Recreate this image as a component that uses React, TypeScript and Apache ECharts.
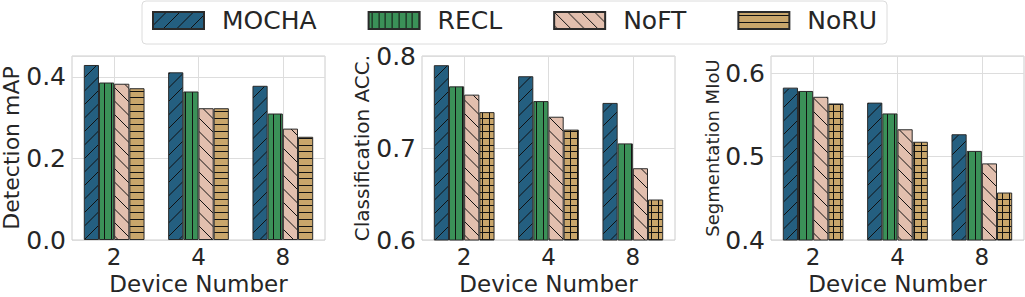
import React, { useEffect, useRef } from "react";
import * as echarts from "echarts";

const categories = ["2", "4", "8"];
const methods = ["MOCHA", "RECL", "NoFT", "NoRU"];

// Detection mAP
const detMOCHA = [0.429, 0.411, 0.378];
const detRECL = [0.386, 0.364, 0.310];
const detNoFT = [0.383, 0.323, 0.273];
const detNoRU = [0.372, 0.323, 0.253];

// Classification ACC.
const clsMOCHA = [0.790, 0.778, 0.749];
const clsRECL = [0.767, 0.751, 0.705];
const clsNoFT = [0.758, 0.734, 0.678];
const clsNoRU = [0.739, 0.720, 0.644];

// Segmentation MIoU
const segMOCHA = [0.583, 0.565, 0.527];
const segRECL = [0.579, 0.552, 0.507];
const segNoFT = [0.572, 0.533, 0.492];
const segNoRU = [0.564, 0.518, 0.457];

const yNames = ["Detection mAP", "Classification ACC.", "Segmentation MIoU"];
const yMin = [0, 0.6, 0.4];
const yMax = [0.451, 0.8, 0.621];
const yInterval = [0.2, 0.1, 0.1];
const xName = "Device Number";

const colors = ["#245f80", "#3b9158", "#e2bfae", "#c9a66b"];

const TILE = 27;
function makePattern(bg: string, kind: string) {
  const c = document.createElement("canvas");
  c.width = TILE;
  c.height = TILE;
  const ctx = c.getContext("2d")!;
  ctx.fillStyle = bg;
  ctx.fillRect(0, 0, TILE, TILE);
  ctx.strokeStyle = "#111";
  ctx.lineWidth = 1;
  ctx.beginPath();
  if (kind === "fwd") {
    for (const cc of [0, 13.5, 27, 40.5, 54]) {
      ctx.moveTo(cc + 1, -1);
      ctx.lineTo(cc - 28, 28);
    }
  } else if (kind === "back") {
    for (const cc of [-27, -13.5, 0, 13.5, 27]) {
      ctx.moveTo(cc - 1, -1);
      ctx.lineTo(cc + 28, 28);
    }
  }
  const pos = [3.5, 10.5, 16.5, 23.5];
  if (kind === "vert" || kind === "cross") {
    for (const p of pos) {
      ctx.moveTo(p, 0);
      ctx.lineTo(p, TILE);
    }
  }
  if (kind === "horiz" || kind === "cross") {
    for (const p of pos) {
      ctx.moveTo(0, p);
      ctx.lineTo(TILE, p);
    }
  }
  ctx.stroke();
  return { image: c, repeat: "repeat", imageWidth: TILE, imageHeight: TILE } as any;
}

export default function App() {
  const ref = useRef<HTMLDivElement>(null);
  useEffect(() => {
    if (!ref.current) return;
    const chart = echarts.init(ref.current, null, { renderer: "svg" });

    const pats = [
      [makePattern(colors[0], "fwd"), makePattern(colors[1], "vert"), makePattern(colors[2], "back"), makePattern(colors[3], "horiz")],
      [makePattern(colors[0], "fwd"), makePattern(colors[1], "vert"), makePattern(colors[2], "back"), makePattern(colors[3], "cross")],
      [makePattern(colors[0], "fwd"), makePattern(colors[1], "vert"), makePattern(colors[2], "back"), makePattern(colors[3], "cross")],
    ];
    const data = [
      [detMOCHA, detRECL, detNoFT, detNoRU],
      [clsMOCHA, clsRECL, clsNoFT, clsNoRU],
      [segMOCHA, segRECL, segNoFT, segNoRU],
    ];
    const lefts = [72, 422, 771];
    const nameSizes = [22, 20, 18];
    const nameLineHeights = [20, 20, 18];
    const nameGaps = [46, 50, 49];
    const textColor = "#262626";
    const font = "DejaVu Sans";

    const grids = lefts.map((l) => ({
      left: l,
      top: 56,
      width: 253,
      height: 184,
      show: true,
      borderColor: "#cccccc",
      borderWidth: 1,
      backgroundColor: "#ffffff",
      containLabel: false,
      outerBoundsMode: "none",
    }));
    const xAxes = lefts.map((_, i) => ({
      type: "category",
      gridIndex: i,
      data: categories,
      axisLine: { show: false },
      axisTick: { show: false },
      axisLabel: { fontSize: 23, color: textColor, fontFamily: font, margin: 5 },
      splitLine: { show: true, alignWithLabel: true, lineStyle: { color: "#dddddd", width: 1 } },
      name: xName,
      nameLocation: "middle",
      nameGap: 29,
      nameTextStyle: { fontSize: 23, lineHeight: 22, color: textColor, fontFamily: font },
    }));
    const yAxes = lefts.map((_, i) => ({
      type: "value",
      gridIndex: i,
      min: yMin[i],
      max: yMax[i],
      interval: yInterval[i],
      axisLine: { show: false },
      axisTick: { show: false },
      axisLabel: {
        fontSize: 25,
        color: textColor,
        fontFamily: font,
        margin: 6,
        formatter: (v: number) =>
          Math.abs(v * 10 - Math.round(v * 10)) < 1e-6 ? v.toFixed(1) : "",
      },
      splitLine: { show: true, lineStyle: { color: "#dddddd", width: 1 } },
      name: yNames[i],
      nameLocation: "middle",
      nameGap: nameGaps[i],
      nameTextStyle: {
        fontSize: nameSizes[i],
        lineHeight: nameLineHeights[i],
        color: textColor,
        fontFamily: font,
      },
    }));
    const series: any[] = [];
    for (let g = 0; g < 3; g++) {
      for (let m = 0; m < 4; m++) {
        series.push({
          type: "bar",
          name: methods[m],
          xAxisIndex: g,
          yAxisIndex: g,
          data: data[g][m],
          barGap: "0%",
          barCategoryGap: "28%",
          itemStyle: {
            color: pats[g][m],
            borderColor: "#2a2a2a",
            borderWidth: 1,
          },
        });
      }
    }

    chart.setOption({
      animation: false,
      backgroundColor: "#ffffff",
      textStyle: { fontFamily: font },
      legend: {
        data: methods,
        left: 142,
        top: 1,
        orient: "horizontal",
        itemWidth: 51,
        itemHeight: 17,
        itemGap: 51,
        padding: [7, 10, 11, 10],
        borderColor: "#dcdcdc",
        borderWidth: 1,
        borderRadius: 4,
        backgroundColor: "#ffffff",
        selectedMode: false,
        icon: "rect",
        textStyle: {
          fontSize: 25,
          lineHeight: 24,
          color: textColor,
          fontFamily: font,
          padding: [0, 0, 0, 13],
        },
      },
      grid: grids,
      xAxis: xAxes,
      yAxis: yAxes,
      series,
    });
    return () => chart.dispose();
  }, []);
  return (
    <div
      ref={ref}
      style={{ position: "fixed", left: 0, top: 0, width: 1025, height: 297 }}
    />
  );
}
